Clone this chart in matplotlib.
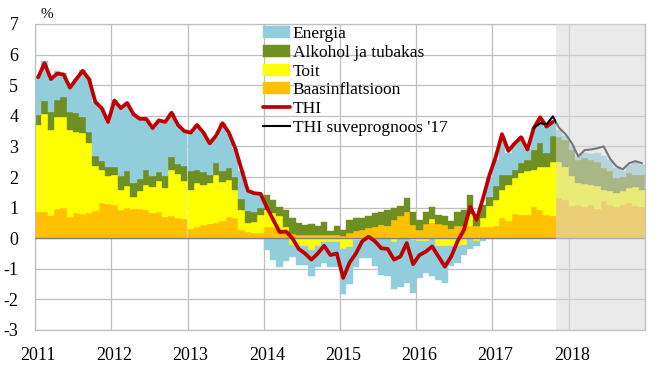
import numpy as np
import matplotlib
matplotlib.use("Agg")
import matplotlib.pyplot as plt
from matplotlib.transforms import ScaledTranslation

plt.rcParams['font.family'] = ['Liberation Serif', 'DejaVu Serif']
plt.rcParams['axes.unicode_minus'] = False

# kuud jaan 2011 ... dets 2018, panused protsendipunktides
aastad = ['2011', '2012', '2013', '2014', '2015', '2016', '2017', '2018']

baas = [0.87, 0.87, 0.72, 0.95, 1.00, 0.68, 0.83, 0.80, 0.83, 0.90, 1.15, 1.13,
        1.10, 0.92, 1.00, 0.97, 0.97, 0.92, 0.82, 0.85, 0.68, 0.72, 0.66, 0.64,
        0.30, 0.35, 0.44, 0.47, 0.50, 0.55, 0.68, 0.65, 0.27, 0.20, 0.17, 0.17,
        0.35, 0.35, 0.30, 0.22, 0.15, 0.11, 0.11, 0.11, 0.11, 0.11, 0.11, 0.11,
        0.08, 0.16, 0.24, 0.27, 0.33, 0.36, 0.44, 0.40, 0.60, 0.71, 0.87, 0.44,
        0.27, 0.47, 0.49, 0.45, 0.44, 0.30, 0.40, 0.40, 0.40, 0.40, 0.35, 0.38,
        0.40, 0.65, 0.55, 0.80, 0.76, 0.76, 1.03, 0.93, 0.75, 0.72, 1.31, 1.25,
        1.06, 1.09, 1.01, 1.09, 0.95, 1.20, 1.09, 1.03, 1.09, 1.14, 1.06, 1.01]

toit = [2.83, 3.19, 2.82, 3.02, 2.97, 2.84, 2.65, 2.64, 2.27, 1.47, 1.07, 0.91,
        0.95, 0.66, 0.70, 0.39, 0.56, 0.83, 0.86, 1.01, 0.97, 1.52, 1.44, 1.22,
        1.28, 1.45, 1.30, 1.33, 1.57, 1.30, 1.22, 0.93, 0.65, 0.30, 0.35, 0.59,
        0.58, 0.47, 0.41, 0.14, -0.22, -0.27, -0.27, -0.38, -0.27, -0.11, -0.14, -0.14,
        -0.35, -0.30, -0.05, -0.05, -0.03, 0.00, 0.00, 0.00, -0.14, 0.00, 0.00, -0.05,
        -0.10, -0.10, 0.15, -0.27, -0.27, -0.25, -0.25, -0.22, 0.40, -0.10, 0.30, 0.67,
        0.85, 0.93, 1.19, 1.16, 1.36, 1.42, 1.20, 1.41, 1.59, 1.78, 1.19, 1.09,
        0.96, 0.71, 0.76, 0.65, 0.74, 0.38, 0.44, 0.44, 0.44, 0.49, 0.60, 0.57]

alkohol = [0.32, 0.43, 0.59, 0.54, 0.66, 0.61, 0.61, 0.53, 0.38, 0.32, 0.31, 0.29,
           0.28, 0.46, 0.50, 0.44, 0.39, 0.47, 0.35, 0.31, 0.39, 0.42, 0.32, 0.50,
           0.60, 0.43, 0.41, 0.27, 0.38, 0.33, 0.40, 0.42, 0.35, 0.40, 0.35, 0.22,
           0.49, 0.43, 0.32, 0.57, 0.50, 0.38, 0.33, 0.36, 0.29, 0.43, 0.11, 0.29,
           0.19, 0.44, 0.41, 0.38, 0.38, 0.46, 0.43, 0.53, 0.38, 0.33, 0.44, 0.43,
           0.33, 0.40, 0.37, 0.31, 0.27, 0.25, 0.47, 0.53, 0.60, 0.35, 0.45, 0.31,
           0.44, 0.49, 0.31, 0.27, 0.33, 0.37, 0.66, 0.76, 0.46, 0.85, 0.82, 0.87,
           0.87, 0.75, 0.85, 0.82, 0.81, 0.71, 0.65, 0.49, 0.47, 0.49, 0.41, 0.49]

energia = [1.28, 1.31, 1.07, 0.94, 0.77, 0.82, 1.11, 1.53, 1.77, 1.76, 1.72, 1.47,
           2.17, 2.18, 2.22, 2.25, 1.98, 1.66, 1.57, 1.68, 1.76, 1.44, 1.28, 1.14,
           1.27, 1.47, 1.30, 1.03, 0.85, 1.58, 1.10, 0.90, 0.93, 0.65, 0.60, 0.47,
           -0.38, -0.71, -0.93, -0.76, -0.38, -0.60, -0.60, -0.85, -0.66, -0.71, -0.79, -0.79,
           -1.47, -1.20, -0.90, -0.60, -0.62, -0.90, -1.20, -1.25, -1.53, -1.60, -1.45, -1.75,
           -1.20, -1.04, -1.25, -1.08, -1.18, -0.65, -0.55, -0.33, -0.35, -0.15, -0.10, 0.60,
           0.86, 1.23, 0.75, 0.87, 0.85, 0.35, 0.71, 0.75, 0.85, 0.45, 0.23, 0.14,
           0.11, 0.10, 0.18, 0.19, 0.30, 0.41, 0.37, 0.34, 0.20, 0.28, 0.43, 0.33]

# tarbijahinnaindeksi aastamuutus, jaan 2011 ... okt 2017
thi = [5.26, 5.72, 5.20, 5.38, 5.35, 4.92, 5.20, 5.47, 5.20, 4.45, 4.25, 3.80,
       4.50, 4.25, 4.42, 4.05, 3.90, 3.90, 3.60, 3.85, 3.80, 4.10, 3.70, 3.50,
       3.45, 3.70, 3.45, 3.10, 3.35, 3.76, 3.45, 2.95, 2.25, 1.55, 1.47, 1.45,
       1.00, 0.60, 0.20, 0.22, 0.00, -0.35, -0.50, -0.70, -0.50, -0.25, -0.55, -0.50,
       -1.30, -0.80, -0.50, -0.10, 0.05, -0.10, -0.33, -0.35, -0.70, -0.60, -0.16, -0.85,
       -0.55, -0.44, -0.27, -0.60, -0.93, -0.60, -0.10, 0.27, 1.03, 0.60, 1.30, 2.05,
       2.65, 3.40, 2.85, 3.10, 3.30, 2.90, 3.60, 3.95, 3.65, 3.80]

# suveprognoos, juuli 2017 ... dets 2018
prognoos_algus = 78
prognoos = [3.60, 3.76, 3.72, 3.98, 3.60, 3.40, 3.10, 2.67, 2.88, 2.90, 2.94, 3.00,
            2.60, 2.35, 2.25, 2.45, 2.52, 2.45]
prognoosi_periood = 82

kuud = np.arange(len(baas))

fig = plt.figure(figsize=(6.69, 3.68), dpi=100)
ax = fig.add_axes([35 / 669, 38 / 368, 610 / 669, 306 / 368])

komponendid = [
    (baas, '#FFC000', 'Baasinflatsioon'),
    (toit, '#FFFF00', 'Toit'),
    (alkohol, '#6F8F23', 'Alkohol ja tubakas'),
    (energia, '#92CDDC', 'Energia'),
]

pos = np.zeros(len(kuud))
neg = np.zeros(len(kuud))
tulbad = {}
for vals, col, lab in komponendid:
    v = np.array(vals)
    alus = np.where(v >= 0, pos, neg)
    tulbad[lab] = ax.bar(kuud, v, width=1.0, bottom=alus, align='edge',
                         color=col, edgecolor=col, linewidth=0.3, zorder=2)
    pos += np.clip(v, 0, None)
    neg += np.clip(v, None, 0)

joon_thi, = ax.plot(kuud[:len(thi)] + 0.5, thi, color='#C00000', lw=2.7,
                    solid_joinstyle='round', solid_capstyle='round', zorder=4)
joon_prog, = ax.plot(kuud[prognoos_algus:] + 0.5, prognoos, color='black', lw=1.5,
                     solid_joinstyle='round', zorder=5)

ax.axhline(0, color='#7F7F7F', lw=1.0, zorder=3)
ax.axvspan(prognoosi_periood, len(kuud), color='#D9D9D9', alpha=0.55, lw=0, zorder=6)

ax.set_xlim(0, len(kuud))
ax.set_ylim(-3, 7)
ax.set_yticks(range(-3, 8))
ax.set_xticks(range(0, len(kuud) + 1, 12))
ax.set_xticklabels(aastad + [''])
ax.tick_params(length=0, labelsize=13)
ax.tick_params(axis='x', pad=12)
ax.tick_params(axis='y', pad=12)
for lbl in ax.get_xticklabels():
    lbl.set_transform(lbl.get_transform() + ScaledTranslation(3 / 100, 0, fig.dpi_scale_trans))

ax.grid(True, color='#BFBFBF', lw=0.9, zorder=0)
ax.set_axisbelow(True)
for sp in ax.spines.values():
    sp.set_color('#BFBFBF')
    sp.set_linewidth(0.9)

kasitsejad = [tulbad['Energia'], tulbad['Alkohol ja tubakas'], tulbad['Toit'],
              tulbad['Baasinflatsioon'], joon_thi, joon_prog]
sildid = ['Energia', 'Alkohol ja tubakas', 'Toit', 'Baasinflatsioon', 'THI',
          "THI suveprognoos '17"]
leg = ax.legend(kasitsejad, sildid, loc='upper left',
                bbox_to_anchor=(263 / 669, 1 - 26 / 368), bbox_transform=fig.transFigure,
                frameon=False, fontsize=12.5, handlelength=1.55, handletextpad=0.15,
                labelspacing=0.15, borderpad=0, borderaxespad=0)
leg.set_zorder(7)

fig.text(47 / 669, 1 - 14 / 368, '%', ha='center', va='center', fontsize=11)

fig.savefig('out.png', dpi=100)
